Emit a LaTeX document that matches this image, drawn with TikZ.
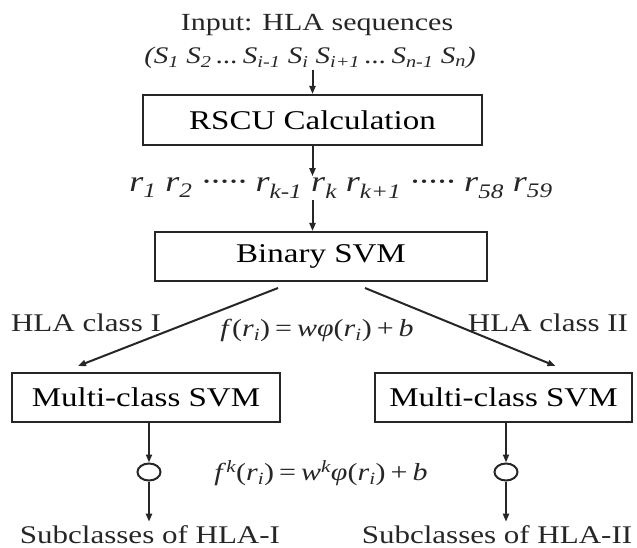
\documentclass[tikz,border=0pt]{standalone}
\usepackage{graphicx}
\usepackage{fontspec}
\setmainfont{Liberation Serif}
\usetikzlibrary{arrows.meta,shapes.geometric}
\newcommand\sq[1]{\scalebox{1}[0.82]{#1}}
\newcommand\sbs[1]{\textsubscript{\itshape #1}}
\newcommand\sps[1]{\textsuperscript{\itshape #1}}
\newcommand\fs[1]{\fontsize{#1}{#1}\selectfont}
\tikzset{
  ink/.style={draw=black!85, line width=2pt},
  box/.style={ink, rectangle, inner sep=0pt, fill=white},
  txt/.style={inner sep=1pt, text=black!85},
  arr/.style={ink, -{Triangle[length=8pt,width=6pt]}},
  knot/.style={ink, ellipse, minimum width=23pt, minimum height=17pt, inner sep=0pt, fill=white}
}
\begin{document}
\begin{tikzpicture}[x=1pt,y=-1pt]
\useasboundingbox (0,0) rectangle (637,548);
% texts
\node[txt] (in1) at (317,25) {\sq{\fs{30}Input: HLA sequences}};
\node[txt] (in2) at (310,58) {\sq{\fs{29}\itshape (S\sbs{1} S\sbs{2}\,...\,S\sbs{i-1} S\sbs{i} S\sbs{i+1}\,...\,S\sbs{n-1} S\sbs{n})}};
\node[box, minimum width=339pt, minimum height=50pt] (rscu) at (312.5,120) {\sq{\fs{33}RSCU Calculation}};
\node[txt] (rr) at (341,188) {\sq{\fs{36}\itshape r\sbs{1} r\sbs{2} ····· r\sbs{k-1} r\sbs{k} r\sbs{k+1} ····· r\sbs{58} r\sbs{59}}};
\node[box, minimum width=332pt, minimum height=49pt] (bin) at (321,256.5) {\sq{\fs{33}Binary SVM}};
\node[txt] (hl1) at (86,323) {\sq{\fs{31}HLA class I}};
\node[txt] (hl2) at (548,323) {\sq{\fs{31}HLA class II}};
\node[txt] (f1) at (317,330) {\sq{\fs{30}\textit{f}(\textit{r}\sbs{i})\,=\,\textit{wφ}(\textit{r}\sbs{i})\,+\,\textit{b}}};
\node[box, minimum width=268pt, minimum height=49pt] (ml) at (146,397.5) {\sq{\fs{33}Multi-class SVM}};
\node[box, minimum width=257pt, minimum height=49pt] (mr) at (503.5,397.5) {\sq{\fs{33}Multi-class SVM}};
\node[knot] (cl) at (149,472) {};
\node[knot] (cr) at (506,472) {};
\node[txt] (f2) at (321,473) {\sq{\fs{30}\textit{f}\sps{k}(\textit{r}\sbs{i})\,=\,\textit{w}\sps{k}\textit{φ}(\textit{r}\sbs{i})\,+\,\textit{b}}};
\node[txt] (sl) at (150,535) {\sq{\fs{31}Subclasses of HLA-I}};
\node[txt] (sr) at (497,535) {\sq{\fs{31}Subclasses of HLA-II}};
% connectors
\draw[arr] (in2.south -| rscu.north) -- (rscu.north);
\draw[arr] (rscu.south) -- (rscu.south |- rr.north);
\draw[arr] (rr.south -| rscu.south) -- (rscu.south |- bin.north);
\draw[arr] ([xshift=-43pt,yshift=-6pt]bin.south) -- ([xshift=-68pt,yshift=6pt]ml.north);
\draw[arr] ([xshift=44pt,yshift=-6pt]bin.south) -- ([xshift=52pt,yshift=6pt]mr.north);
\draw[arr] (ml.south -| cl.north) -- (cl.north);
\draw[arr] (cl.south) -- ([yshift=3pt]cl.south |- sl.north);
\draw[arr] (mr.south -| cr.north) -- (cr.north);
\draw[arr] (cr.south) -- ([yshift=3pt]cr.south |- sr.north);
\end{tikzpicture}
\end{document}
